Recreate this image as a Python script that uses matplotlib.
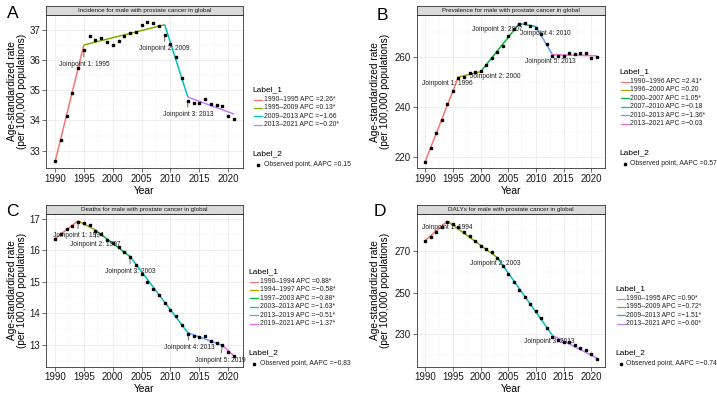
import matplotlib
matplotlib.use("Agg")
import matplotlib.pyplot as plt
from matplotlib.lines import Line2D
from matplotlib.ticker import MultipleLocator

plt.rcParams['font.family'] = ['Liberation Sans', 'DejaVu Sans']

W, H = 717, 398

years = list(range(1990, 2022))

# observed age-standardized rates (per 100,000)
inc_obs = [32.65, 33.36, 34.16, 34.92, 35.73, 36.31, 36.79, 36.66, 36.71, 36.59,
           36.48, 36.63, 36.79, 36.90, 36.91, 37.15, 37.25, 37.22, 37.13, 36.81,
           36.51, 36.08, 35.40, 34.63, 34.57, 34.57, 34.70, 34.54, 34.52, 34.46,
           34.13, 34.05]
prev_obs = [218.3, 223.6, 229.7, 235.1, 241.3, 246.5, 251.7, 252.1, 253.7, 254.0,
            254.4, 256.9, 259.9, 262.1, 264.7, 268.7, 271.2, 273.2, 273.7, 272.7,
            271.9, 269.3, 265.3, 260.5, 260.7, 260.7, 261.9, 261.3, 261.9, 261.7,
            259.7, 260.0]
death_obs = [16.35, 16.52, 16.66, 16.78, 16.90, 16.85, 16.79, 16.61, 16.50, 16.34,
             16.23, 16.09, 15.94, 15.78, 15.54, 15.25, 14.98, 14.77, 14.58, 14.32,
             14.10, 13.90, 13.62, 13.35, 13.29, 13.25, 13.27, 13.13, 13.04, 12.98,
             12.76, 12.64]
daly_obs = [275.0, 277.1, 279.5, 281.7, 284.1, 283.0, 281.9, 279.2, 277.2, 274.8,
            272.6, 271.1, 269.4, 266.6, 262.8, 258.9, 254.9, 251.2, 248.1, 244.5,
            240.9, 237.6, 232.9, 228.4, 227.1, 226.3, 226.3, 224.9, 223.3, 222.5,
            220.2, 217.8]

# joinpoint model: segment ends and fitted values
inc_jp_years = [1990, 1995, 2009, 2013, 2021]
inc_jp_fit = [32.62, 36.49, 37.16, 34.77, 34.21]
prev_jp_years = [1990, 1996, 2000, 2007, 2010, 2013, 2021]
prev_jp_fit = [218.4, 252.1, 254.2, 273.5, 272.3, 261.0, 260.6]
death_jp_years = [1990, 1994, 1997, 2003, 2013, 2019, 2021]
death_jp_fit = [16.37, 16.93, 16.64, 15.80, 13.38, 12.98, 12.64]
daly_jp_years = [1990, 1994, 2003, 2013, 2021]
daly_jp_fit = [275.2, 284.6, 267.0, 229.3, 218.4]

inc_labels = ["1990\u20131995 APC =2.26*", "1995\u20132009 APC =0.13*",
              "2009\u20132013 APC =\u22121.66", "2013\u20132021 APC =\u22120.20*"]
prev_labels = ["1990\u20131996 APC =2.41*", "1996\u20132000 APC =0.20",
               "2000\u20132007 APC =1.05*", "2007\u20132010 APC =\u22120.18",
               "2010\u20132013 APC =\u22121.36*", "2013\u20132021 APC =\u22120.03"]
death_labels = ["1990\u20131994 APC =0.88*", "1994\u20131997 APC =\u22120.58*",
                "1997\u20132003 APC =\u22120.88*", "2003\u20132013 APC =\u22121.63*",
                "2013\u20132019 APC =\u22120.51*", "2019\u20132021 APC =\u22121.37*"]
daly_labels = ["1990\u20131995 APC =0.90*", "1995\u20132009 APC =\u22120.72*",
               "2009\u20132013 APC =\u22121.51*", "2013\u20132021 APC =\u22120.60*"]

aapc = ["0.15", "0.57", "\u22120.83", "\u22120.74"]
titles = ["Incidence for male with prostate cancer in global",
          "Prevalence for male with prostate cancer in global",
          "Deaths for male with prostate cancer in global",
          "DALYs for male with prostate cancer in global"]

pal4 = ['#F8766D', '#7CAE00', '#00BFC4', '#C77CFF']
pal6 = ['#F8766D', '#B79F00', '#00BA38', '#00BFC4', '#619CFF', '#F564E3']


def px_rect(l, t, r, b):
    return [l / W, 1 - b / H, (r - l) / W, (b - t) / H]


def draw_panel(fig, box, letter, letter_xy, title, obs, jp_years, jp_fit, colors,
               labels, aapc_txt, ylim, ystep, yticks, lab_off, segs, leg_x, leg_y,
               ylab_x):
    l, t, r, b = box
    ax = fig.add_axes(px_rect(l, t, r, b))
    ax.set_xlim(1988.45, 2022.55)
    ax.set_ylim(*ylim)
    ax.set_xticks([1990, 1995, 2000, 2005, 2010, 2015, 2020])
    ax.set_yticks(yticks)
    ax.xaxis.set_minor_locator(MultipleLocator(2.5))
    ax.yaxis.set_minor_locator(MultipleLocator(ystep / 2))
    ax.set_axisbelow(True)
    ax.grid(which='major', color='#EBEBEB', lw=0.6)
    ax.grid(which='minor', color='#F3F3F3', lw=0.35)
    ax.tick_params(which='major', length=2.6, width=0.5, color='#333333',
                   labelsize=7.0, labelcolor='#1A1A1A', pad=1.6)
    ax.tick_params(which='minor', length=0)
    for s in ax.spines.values():
        s.set_color('#333333')
        s.set_linewidth(0.6)

    # fitted joinpoint segments
    for i in range(len(jp_years) - 1):
        ax.plot(jp_years[i:i + 2], jp_fit[i:i + 2], color=colors[i], lw=1.1,
                solid_capstyle='butt', zorder=2)
    ax.plot(years, obs, 's', color='black', ms=1.9, zorder=3)

    # joinpoint labels
    for k, yr in enumerate(jp_years[1:-1]):
        yo = obs[years.index(yr)]
        dx, dy = lab_off[k]
        props = None
        if segs:
            props = dict(arrowstyle='-', color='#333333', lw=0.5, shrinkA=0.5, shrinkB=1.2)
        ax.annotate(f"Joinpoint {k + 1}: {yr}", xy=(yr, yo), xytext=(yr + dx, yo + dy),
                    ha='center', va='center', fontsize=4.8, color='#222222',
                    arrowprops=props, zorder=4)

    ax.set_xlabel("Year", fontsize=7.4, labelpad=1.2)

    # strip on top
    sax = fig.add_axes(px_rect(l, t - 9, r, t))
    sax.set_facecolor('#D9D9D9')
    sax.set_xticks([])
    sax.set_yticks([])
    for s in sax.spines.values():
        s.set_color('#333333')
        s.set_linewidth(0.6)
    sax.text(0.5, 0.45, title, ha='center', va='center', fontsize=4.5, color='#1A1A1A')

    fig.text(ylab_x / W, 1 - ((t + b) / 2) / H,
             "Age-standardized rate\n(per 100,000 populations)",
             rotation=90, ha='center', va='center', fontsize=7.3, linespacing=1.05)
    fig.text(letter_xy[0] / W, 1 - letter_xy[1] / H, letter, ha='center', va='center',
             fontsize=12.5)

    # legends
    fig.text(leg_x / W, 1 - leg_y / H, "Label_1", ha='left', va='center', fontsize=6.0)
    for i, lab in enumerate(labels):
        yy = 1 - (leg_y + 9.5 + 8.4 * i) / H
        fig.add_artist(Line2D([(leg_x + 1.5) / W, (leg_x + 10) / W], [yy, yy],
                              color=colors[i], lw=0.9, transform=fig.transFigure))
        fig.text((leg_x + 11.5) / W, yy, lab, ha='left', va='center', fontsize=4.9,
                 color='#222222')
    y2 = leg_y + 9.5 + 8.4 * (len(labels) - 1) + 29.5
    fig.text(leg_x / W, 1 - y2 / H, "Label_2", ha='left', va='center', fontsize=6.0)
    fig.add_artist(Line2D([(leg_x + 5.5) / W], [1 - (y2 + 10.5) / H], marker='s',
                          color='black', ms=1.8, lw=0, transform=fig.transFigure))
    fig.text((leg_x + 11.5) / W, 1 - (y2 + 10.5) / H, "Observed point, AAPC =" + aapc_txt,
             ha='left', va='center', fontsize=4.9, color='#222222')
    return ax


fig = plt.figure(figsize=(W / 100, H / 100), dpi=100)

draw_panel(fig, (46, 15, 243, 168), "A", (12.5, 14), titles[0], inc_obs,
           inc_jp_years, inc_jp_fit, pal4, inc_labels, aapc[0],
           (32.43, 37.48), 1, [33, 34, 35, 36, 37],
           [(0, -0.45), (0, -0.44), (0, -0.42)], True, 252, 90, 17)
draw_panel(fig, (416.7, 15, 605.3, 168.3), "B", (382, 15), titles[1], prev_obs,
           prev_jp_years, prev_jp_fit, pal6, prev_labels, aapc[1],
           (215.6, 276.9), 20, [220, 240, 260],
           [(-1.94, -2.2), (2.7, -1.9), (-4.07, -2.1), (1.63, -2.3), (-0.32, -2.0)],
           False, 619, 72, 380)
draw_panel(fig, (46, 214, 243, 366.5), "C", (12.5, 212), titles[2], death_obs,
           death_jp_years, death_jp_fit, pal6, death_labels, aapc[2],
           (12.31, 17.15), 1, [13, 14, 15, 16, 17],
           [(0, -0.44), (0, -0.43), (0, -0.44), (0.28, -0.43), (-0.45, -0.47)],
           True, 248, 272, 17)
draw_panel(fig, (416.7, 214, 605.3, 366.5), "D", (380, 212), titles[3], daly_obs,
           daly_jp_years, daly_jp_fit, pal4, daly_labels, aapc[3],
           (214.3, 288.0), 20, [230, 250, 270],
           [(-0.1, -2.7), (-0.3, -2.5), (-0.6, -2.1)], False, 615, 289, 380)

fig.savefig("out.png", dpi=100)
